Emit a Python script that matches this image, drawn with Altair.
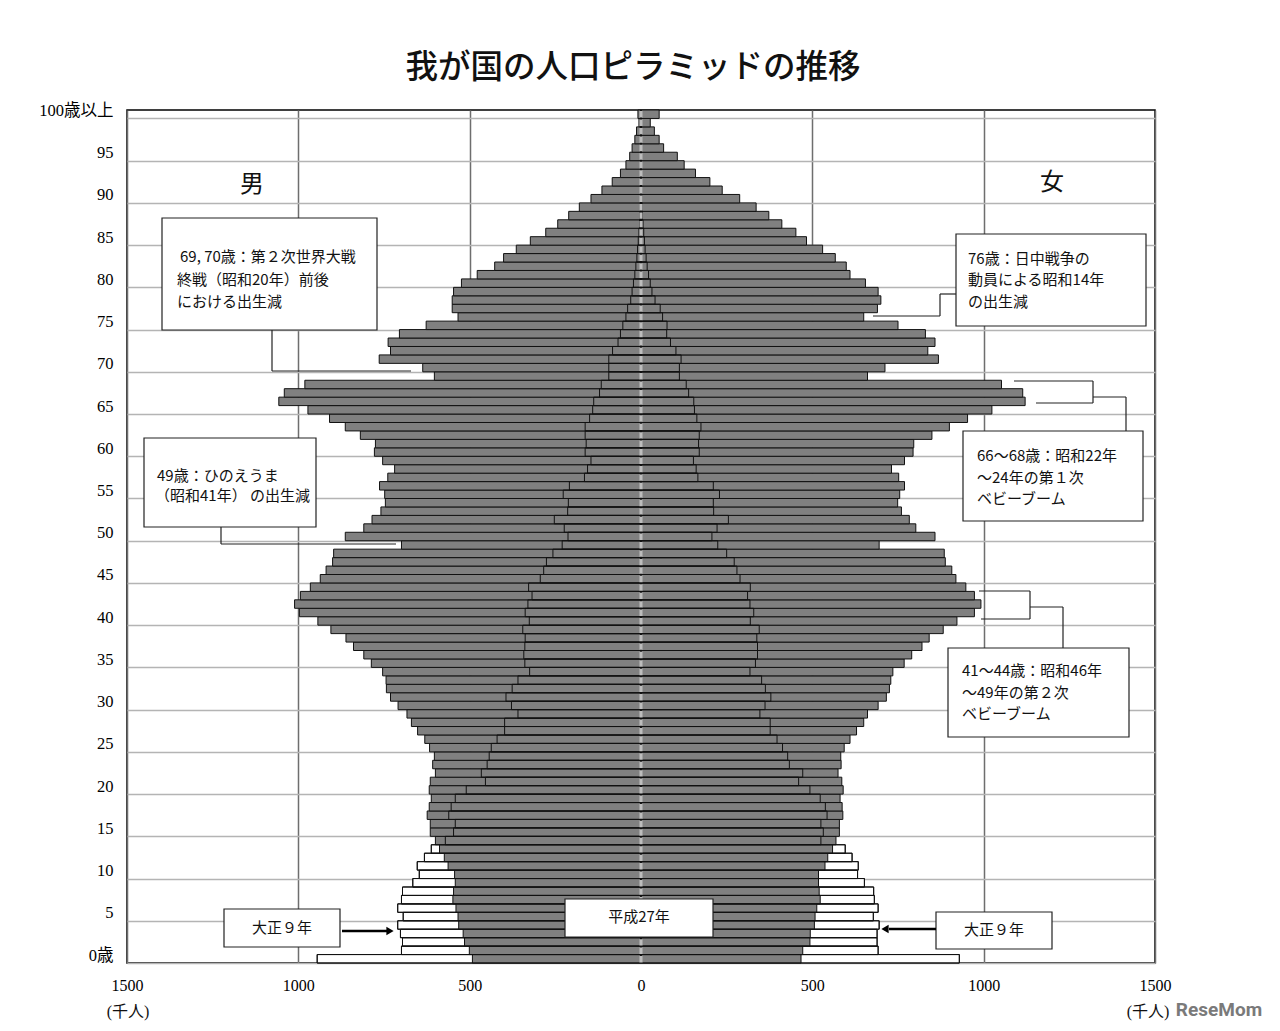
import altair as alt
import pandas as pd

# ---------------- data (thousands of persons), index = age 0..100 (100 = 100歳以上)
ages = list(range(101))

male_2015 = [492, 501, 515, 519, 532, 534, 540, 549, 547, 542,
             544, 563, 574, 588, 600, 615, 615, 624, 618, 612,
             618, 615, 600, 608, 603, 617, 631, 652, 670, 683,
             709, 731, 743, 744, 754, 787, 809, 839, 861, 905,
             943, 997, 1011, 994, 965, 936, 919, 900, 897, 699,
             863, 809, 785, 759, 746, 748, 763, 739, 719, 754,
             778, 775, 819, 863, 909, 972, 1057, 1041, 981, 603,
             637, 764, 731, 738, 705, 627, 534, 551, 551, 547,
             524, 478, 427, 401, 364, 323, 278, 243, 211, 180,
             146, 114, 84, 60, 44, 33, 26, 18, 13, 6,
             9]

female_2015 = [467, 472, 493, 494, 506, 508, 513, 523, 520, 518,
               518, 537, 545, 559, 569, 579, 579, 589, 587, 581,
               590, 586, 575, 584, 583, 593, 610, 629, 650, 661,
               692, 716, 725, 729, 735, 768, 790, 820, 841, 882,
               922, 973, 992, 973, 948, 919, 907, 888, 885, 695,
               858, 802, 783, 760, 749, 755, 769, 752, 731, 769,
               794, 796, 849, 900, 953, 1024, 1121, 1114, 1052, 661,
               712, 868, 837, 858, 830, 750, 650, 690, 700, 692,
               655, 610, 599, 567, 530, 483, 452, 411, 373, 336,
               288, 237, 201, 159, 126, 106, 66, 53, 39, 27,
               53]

male_1920 = [945, 699, 696, 702, 710, 694, 710, 699, 696, 666,
             647, 653, 632, 612, 571, 547, 542, 561, 554, 542,
             510, 454, 466, 449, 443, 437, 420, 398, 398, 359,
             378, 394, 376, 359, 325, 339, 342, 339, 338, 345,
             326, 338, 330, 318, 328, 294, 284, 276, 257, 230,
             213, 224, 253, 214, 212, 227, 209, 165, 156, 146,
             163, 160, 163, 163, 150, 141, 138, 121, 116, 94,
             94, 94, 83, 67, 60, 53, 44, 39, 30, 26,
             22, 18, 15, 12, 10, 8, 6, 4, 3, 2,
             1.5, 1, 0.7, 0.5, 0.3, 0.2, 0.1, 0.1, 0.1, 0.1,
             0.1]

female_1920 = [929, 692, 689, 689, 695, 678, 692, 681, 679, 652,
               632, 634, 616, 596, 525, 532, 525, 543, 538, 523,
               493, 460, 472, 433, 428, 413, 397, 377, 377, 347,
               362, 379, 363, 352, 318, 334, 340, 340, 338, 345,
               319, 329, 318, 311, 319, 289, 280, 272, 250, 224,
               207, 222, 255, 212, 211, 229, 211, 166, 161, 153,
               170, 168, 170, 175, 163, 156, 154, 139, 132, 112,
               112, 117, 102, 86, 75, 76, 63, 56, 41, 32,
               27, 22, 18, 15, 12, 10, 8, 6, 4, 3,
               2.5, 2, 1.5, 1, 0.7, 0.5, 0.3, 0.2, 0.1, 0.1,
               0.1]

x_ticks = [-1500, -1000, -500, 0, 500, 1000, 1500]
y_ticks = list(range(0, 101, 5))

title_text = "我が国の人口ピラミッドの推移"

# ---------------- geometry helpers
W, H = 1028, 853
X_MIN, X_MAX = -1500, 1500
Y_MIN, Y_MAX = 0, 101


def dx(px):
    return X_MIN + px * (X_MAX - X_MIN) / W


def dy(py):
    return Y_MAX - py * (Y_MAX - Y_MIN) / H


def bar_frame(m, f):
    rows = []
    for a in ages:
        rows.append(dict(x=0, x2=-m[a], y=a, y2=a + 1))
        rows.append(dict(x=0, x2=f[a], y=a, y2=a + 1))
    return pd.DataFrame(rows)


b1920 = bar_frame(male_1920, female_1920)
b2015 = bar_frame(male_2015, female_2015)

xs = alt.Scale(domain=[X_MIN, X_MAX], nice=False, zero=False)
ys = alt.Scale(domain=[Y_MIN, Y_MAX], nice=False, zero=False)

serif = "Liberation Serif, 'Noto Sans CJK JP'"
gothic = "'Noto Sans CJK JP'"

x_axis = alt.Axis(values=x_ticks, labelExpr="abs(datum.value)", title=None, ticks=False,
                  domain=False, grid=True, gridColor="#6e6e6e", gridWidth=1.5,
                  labelFont=serif, labelFontSize=16, labelPadding=14, labelColor="black",
                  labelFlush=False, labelOverlap=False)
y_axis = alt.Axis(values=y_ticks,
                  labelExpr="datum.value == 0 ? '0歳' : (datum.value == 100 ? '100歳以上' : datum.label)",
                  title=None, ticks=False, domain=False, grid=True, gridColor="#b4b4b4",
                  gridWidth=1.5, labelFont=serif, labelFontSize=16.5, labelPadding=14,
                  labelColor="black", labelOffset=-8, labelOverlap=False)


def X(axis=False):
    if axis:
        return alt.X("x:Q", scale=xs, axis=x_axis, title=None)
    return alt.X("x:Q", scale=xs, title=None)


def Y(axis=False):
    if axis:
        return alt.Y("y:Q", scale=ys, axis=y_axis, title=None)
    return alt.Y("y:Q", scale=ys, title=None)


layer_white = alt.Chart(b1920).mark_rect(fill="white", stroke="#111", strokeWidth=1).encode(
    x=X(True), y=Y(True), x2="x2:Q", y2="y2:Q")

layer_gray = alt.Chart(b2015).mark_rect(fill="#808080", stroke="#111", strokeWidth=1).encode(
    x=X(), y=Y(), x2="x2:Q", y2="y2:Q")

layer_outline = alt.Chart(b1920).mark_rect(fill="transparent", stroke="#111", strokeWidth=1).encode(
    x=X(), y=Y(), x2="x2:Q", y2="y2:Q")

center = alt.Chart(pd.DataFrame({"x": [0], "y": [Y_MAX], "y2": [Y_MIN]})).mark_rule(
    color="#bdbdbd", strokeWidth=3, strokeDash=[6.4, 2.05], strokeDashOffset=7.4).encode(
    x=X(), y=Y(), y2="y2:Q")

# ---------------- annotations (pixel positions within the plot frame)
boxes_px = [
    (35, 108, 250, 220),
    (829, 124, 1019, 216),
    (836, 321, 1016, 411),
    (17, 328, 189, 417),
    (821, 538, 1002, 627),
    (97, 799, 213, 837),
    (809, 802, 925, 839),
    (438, 789, 586, 827),
]
boxes = pd.DataFrame([dict(x=dx(a), x2=dx(c), y=dy(b), y2=dy(d)) for a, b, c, d in boxes_px])

segs_px = [
    (145, 220, 145, 261), (145, 261, 284, 261),
    (829, 184, 813, 184), (813, 184, 813, 206), (813, 206, 746, 206),
    (887, 271, 966, 271), (966, 271, 966, 293), (909, 293, 966, 293),
    (966, 287, 999, 287), (999, 287, 999, 321),
    (94, 417, 94, 434), (94, 434, 269, 434),
    (852, 481, 903, 481), (903, 481, 903, 509), (854, 509, 903, 509),
    (903, 497, 936, 497), (936, 497, 936, 538),
]
segs = pd.DataFrame([dict(x=dx(a), y=dy(b), x2=dx(c), y2=dy(d)) for a, b, c, d in segs_px])

arrows_px = [(215, 821, 262, 821), (809, 819, 762, 819)]
arrows = pd.DataFrame([dict(x=dx(a), y=dy(b), x2=dx(c), y2=dy(d)) for a, b, c, d in arrows_px])

box_layer = alt.Chart(boxes).mark_rect(fill="white", stroke="#222", strokeWidth=1.2).encode(
    x=X(), x2="x2:Q", y=Y(), y2="y2:Q")

seg_layer = alt.Chart(segs).mark_rule(color="#222", strokeWidth=1.2).encode(
    x=X(), x2="x2:Q", y=Y(), y2="y2:Q")

arrow_layer = alt.Chart(arrows).mark_rule(color="black", strokeWidth=2.5).encode(
    x=X(), x2="x2:Q", y=Y(), y2="y2:Q")

heads = pd.DataFrame([
    dict(x=dx(263), y=dy(821), shape="triangle-right"),
    dict(x=dx(758), y=dy(819), shape="triangle-left"),
])
head_layer = alt.Chart(heads).mark_point(filled=True, color="black", size=70, opacity=1).encode(
    x=X(), y=Y(), shape=alt.Shape("shape:N", scale=None, legend=None))

left_texts_px = [
    (53, 147, "69, 70歳：第２次世界大戦"),
    (50, 170, "終戦（昭和20年）前後"),
    (50, 192, "における出生減"),
    (841, 149, "76歳：日中戦争の"),
    (841, 170, "動員による昭和14年"),
    (841, 192, "の出生減"),
    (850, 346, "66～68歳：昭和22年"),
    (850, 368, "～24年の第１次"),
    (850, 389, "ベビーブーム"),
    (30, 366, "49歳：ひのえうま"),
    (28, 386, "（昭和41年） の出生減"),
    (835, 561, "41～44歳：昭和46年"),
    (835, 583, "～49年の第２次"),
    (835, 604, "ベビーブーム"),
]
left_texts = pd.DataFrame([dict(x=dx(a), y=dy(b), t=s) for a, b, s in left_texts_px])
left_text_layer = alt.Chart(left_texts).mark_text(
    align="left", baseline="middle", font=gothic, fontSize=15, color="#111").encode(
    x=X(), y=Y(), text="t:N")

center_texts_px = [
    (155, 818, "大正９年", 15),
    (867, 820, "大正９年", 15),
    (512, 807, "平成27年", 15),
    (125, 75, "男", 24),
    (925, 73, "女", 24),
]
center_texts = pd.DataFrame([dict(x=dx(a), y=dy(b), t=s, fs=f) for a, b, s, f in center_texts_px])
center_text_layer = alt.Chart(center_texts).mark_text(
    align="center", baseline="middle", font=gothic, color="#111").encode(
    x=X(), y=Y(), text="t:N", size=alt.Size("fs:Q", scale=None, legend=None))

title_layer = alt.Chart(pd.DataFrame([dict(x=dx(506), y=dy(-42), t=title_text)])).mark_text(
    align="center", baseline="middle", font=gothic, fontSize=32.5, fontWeight=500,
    color="#111").encode(x=X(), y=Y(), text="t:N")

unit_layer = alt.Chart(pd.DataFrame([dict(x=dx(1), y=dy(902), t="(千人)"),
                                     dict(x=dx(1021), y=dy(902), t="(千人)")])).mark_text(
    align="center", baseline="middle", font=serif, fontSize=16, color="#111").encode(
    x=X(), y=Y(), text="t:N")

mark_layer = alt.Chart(pd.DataFrame([dict(x=dx(1092), y=dy(900), t="ReseMom")])).mark_text(
    align="center", baseline="middle", font="Roboto", fontSize=19, fontWeight="bold",
    color="#7a7a7a").encode(x=X(), y=Y(), text="t:N")

chart = alt.layer(
    layer_white, layer_gray, layer_outline, center,
    box_layer, seg_layer, arrow_layer, head_layer,
    left_text_layer, center_text_layer, title_layer, unit_layer, mark_layer,
).properties(
    width=W, height=H,
    autosize=alt.AutoSizeParams(type="none"),
    padding={"left": 119, "top": 102, "right": 116, "bottom": 58},
).configure_view(stroke="black", strokeWidth=1.5)

chart.save("out.html", embed_options={"renderer": "svg", "actions": False})
